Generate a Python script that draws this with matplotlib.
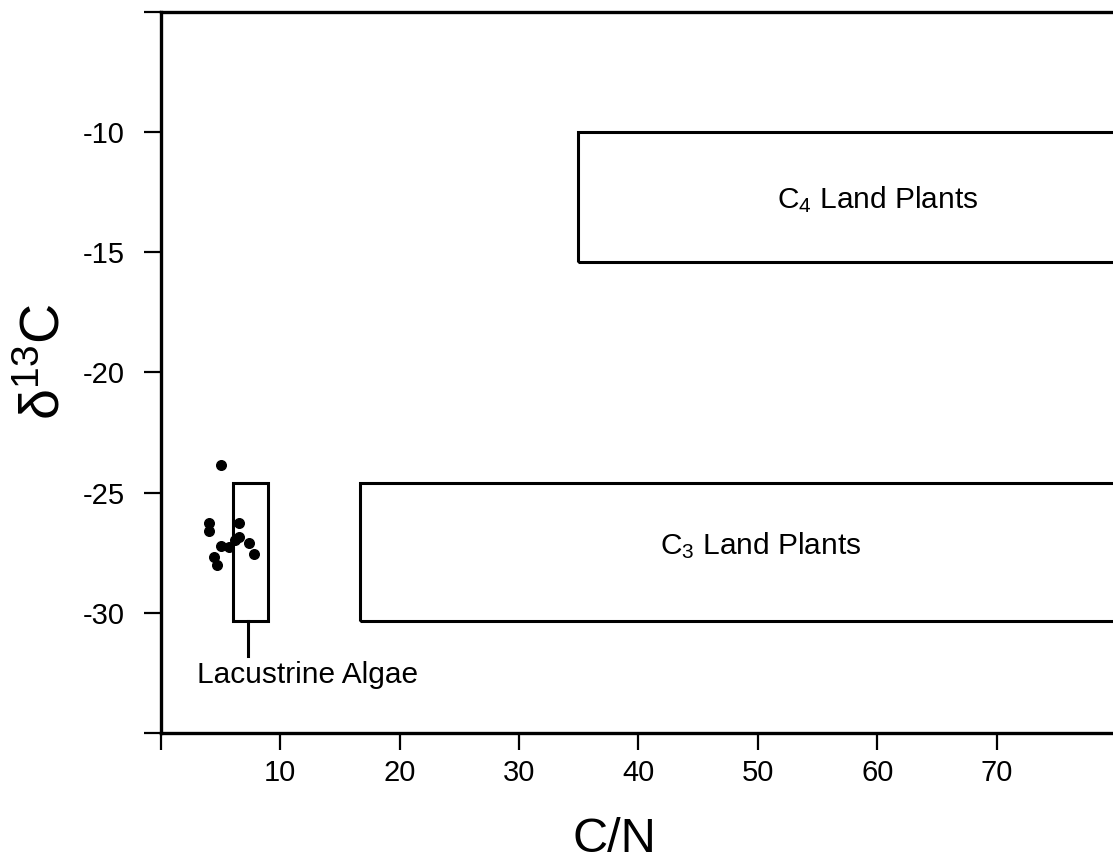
import matplotlib
matplotlib.use("Agg")
import matplotlib.pyplot as plt
from matplotlib.patches import Rectangle

plt.rcParams['font.family'] = ['Liberation Sans', 'DejaVu Sans']
plt.rcParams['mathtext.fontset'] = 'custom'
plt.rcParams['mathtext.rm'] = 'Liberation Sans'
plt.rcParams['mathtext.it'] = 'Liberation Sans:italic'

# sample points (C/N, d13C)
cn = [5.0, 4.0, 4.0, 6.55, 6.55, 5.0, 5.7, 6.2, 7.4, 7.8, 4.4, 4.65]
d13c = [-23.85, -26.25, -26.6, -26.25, -26.86, -27.2, -27.28, -26.97, -27.11, -27.57, -27.67, -28.0]

# source fields: name, x range, y range, label position
field_names = ['Lacustrine Algae', 'C$_3$ Land Plants', 'C$_4$ Land Plants']
field_x0 = [6.0, 16.7, 34.9]
field_x1 = [9.0, 95.0, 95.0]
field_y0 = [-30.35, -30.35, -15.4]
field_y1 = [-24.6, -24.6, -10.0]
label_x = [12.3, 50.2, 60.0]
label_y = [-32.6, -27.2, -12.8]

xticks = [0, 10, 20, 30, 40, 50, 60, 70]
yticks = [-35, -30, -25, -20, -15, -10, -5]

fig = plt.figure(figsize=(11.13, 8.65), dpi=100)
ax = fig.add_axes([161 / 1113, 132 / 865, (1113 - 161) / 1113, 721 / 865])

for i in range(3):
    r = Rectangle((field_x0[i], field_y0[i]), field_x1[i] - field_x0[i],
                  field_y1[i] - field_y0[i], fill=False, edgecolor='black',
                  linewidth=2.2)
    ax.add_patch(r)
    ax.text(label_x[i], label_y[i], field_names[i], ha='center', va='center',
            fontsize=21.5)

# stem under the algae box
ax.plot([7.25, 7.25], [field_y0[0], -31.8], color='black', linewidth=2.2)

ax.scatter(cn, d13c, s=48, color='black', zorder=3)

ax.set_xlim(0, 79.75)
ax.set_ylim(-35, -5)
ax.set_xticks(xticks)
ax.set_xticklabels([''] + [str(v) for v in xticks[1:]])
ax.set_yticks(yticks)
ax.set_yticklabels(['', '-30', '-25', '-20', '-15', '-10', ''])
ax.tick_params(direction='out', length=12, width=1.6, labelsize=21, pad=7)
ax.tick_params(axis='y', pad=14)

ax.spines['right'].set_visible(False)
for s in ['left', 'top', 'bottom']:
    ax.spines[s].set_linewidth(2.4)

ax.set_xlabel('C/N', fontsize=35)
ax.xaxis.set_label_coords((614 - 161) / (1113 - 161), -(840 - 733) / 721)
ax.xaxis.label.set_va('center')
ax.set_ylabel('\u03b4$^{13}$C', fontsize=40)
ax.yaxis.set_label_coords(-(161 - 45) / (1113 - 161), (733 - 362) / 721)
ax.yaxis.label.set_va('center')

fig.savefig('out.png', dpi=100)
